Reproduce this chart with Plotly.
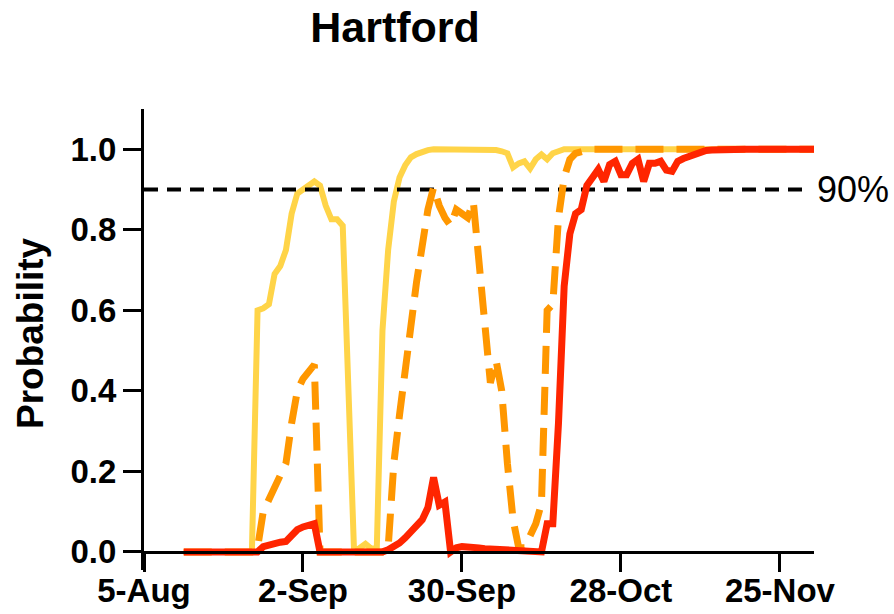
import pandas as pd
import plotly.graph_objects as go

# Daily series, 12-Aug-2020 through 1-Dec-2020
start_date = "2020-08-12"
end_date = "2020-12-01"

yellow_vals = (
    [0.0] * 13
    + [0.6, 0.605, 0.615, 0.69, 0.71, 0.75, 0.84, 0.89, 0.9, 0.91, 0.92,
       0.91, 0.86, 0.826, 0.826, 0.81, 0.4, 0.0, 0.01, 0.02, 0.008, 0.01,
       0.55, 0.75, 0.87, 0.93, 0.96, 0.98, 0.988, 0.995, 0.998]
    + [1.0] * 10
    + [0.999, 0.998, 0.995, 0.99, 0.955, 0.965, 0.97, 0.952, 0.975, 0.987,
       0.975, 0.99, 0.995]
    + [1.0] * 45
)

orange_vals = (
    [0.0] * 13
    + [0.01, 0.1, 0.13, 0.16, 0.18, 0.22, 0.32, 0.4, 0.43, 0.445, 0.465]
    + [0.0] * 12
    + [0.01, 0.22, 0.34, 0.47, 0.56, 0.67, 0.76, 0.85, 0.905, 0.86, 0.83,
       0.81, 0.85, 0.84, 0.83, 0.87, 0.73, 0.6, 0.42, 0.476, 0.4, 0.22,
       0.08, 0.01, 0.01, 0.04, 0.07, 0.12, 0.6, 0.615, 0.83, 0.93, 0.975,
       0.99, 0.995, 0.998]
    + [1.0] * 40
)

red_vals = (
    [0.0] * 14
    + [0.013, 0.018, 0.022, 0.024, 0.026, 0.04, 0.055, 0.062, 0.066, 0.07]
    + [0.0] * 12
    + [0.005, 0.012, 0.022, 0.035, 0.05, 0.062, 0.08, 0.11, 0.185, 0.116,
       0.124, 0.0, 0.01, 0.013, 0.013, 0.012, 0.01, 0.008, 0.007, 0.007,
       0.006, 0.004, 0.002, 0.0, 0.0, 0.0, 0.0, 0.0]
    + [0.07, 0.07, 0.32, 0.66, 0.79, 0.84, 0.85, 0.91, 0.93, 0.95, 0.92,
       0.962, 0.97, 0.937, 0.937, 0.965, 0.975, 0.92, 0.965, 0.965, 0.97,
       0.948, 0.945, 0.97, 0.977, 0.983, 0.988, 0.995, 0.997]
    + [0.998, 0.999] + [1.0] * 17
)

threshold = 0.9
threshold_dates = ["2020-08-05", "2020-11-30"]

tick_dates = ["2020-08-05", "2020-09-02", "2020-09-30", "2020-10-28", "2020-11-25"]
tick_labels = ["5-Aug", "2-Sep", "30-Sep", "28-Oct", "25-Nov"]
y_ticks = [0.0, 0.2, 0.4, 0.6, 0.8, 1.0]

dates = pd.date_range(start_date, end_date, freq="D")

FONT = "Arial, Liberation Sans, sans-serif"

fig = go.Figure()
fig.add_trace(go.Scatter(x=dates, y=yellow_vals, mode="lines",
                         line=dict(color="#FFD448", width=6)))
fig.add_trace(go.Scatter(x=threshold_dates, y=[threshold, threshold], mode="lines",
                         line=dict(color="black", width=4, dash="14px,9px")))
fig.add_trace(go.Scatter(x=dates, y=orange_vals, mode="lines",
                         line=dict(color="#FF9700", width=7, dash="28px,13px")))
fig.add_trace(go.Scatter(x=dates, y=red_vals, mode="lines",
                         line=dict(color="#FF2500", width=7)))

y_min, y_max = -0.045, 1.1

fig.update_layout(
    width=894, height=614,
    margin=dict(l=144, r=80, t=109, b=44),
    plot_bgcolor="white", paper_bgcolor="white",
    showlegend=False,
    font=dict(family=FONT, color="black"),
    title=dict(text="Hartford", xref="container", yref="container",
               x=395 / 894, y=1 - 27 / 614, xanchor="center", yanchor="middle",
               font=dict(family=FONT, size=43, weight="bold", color="black")),
    xaxis=dict(
        type="date", range=["2020-08-05", "2020-12-01"],
        anchor="free", position=(0 - y_min) / (y_max - y_min),
        automargin=False,
        showline=True, linewidth=3, linecolor="black",
        ticks="outside", ticklen=18, tickwidth=3, tickcolor="black",
        tickvals=tick_dates, ticktext=tick_labels, ticklabelstandoff=-9,
        tickfont=dict(family=FONT, size=33, weight="bold", color="black"),
        showgrid=False, zeroline=False,
    ),
    yaxis=dict(
        range=[y_min, y_max], automargin=False,
        showline=True, linewidth=3, linecolor="black",
        ticks="outside", ticklen=18, tickwidth=3, tickcolor="black",
        tickvals=y_ticks, tickformat=".1f",
        tickfont=dict(family=FONT, size=33, weight="bold", color="black"),
        showgrid=False, zeroline=False,
    ),
)

fig.add_annotation(text="Probability", textangle=-90, showarrow=False,
                   xref="paper", yref="paper",
                   x=(30 - 144) / 670, y=(570 - 333) / 461,
                   xanchor="center", yanchor="middle",
                   font=dict(family=FONT, size=37, weight="bold", color="black"))
fig.add_annotation(text="90%", showarrow=False, xref="paper", yref="y",
                   x=1.0, y=threshold, xanchor="left", yanchor="middle", xshift=1,
                   font=dict(family=FONT, size=36, color="black"))

fig.write_html("out.html")
